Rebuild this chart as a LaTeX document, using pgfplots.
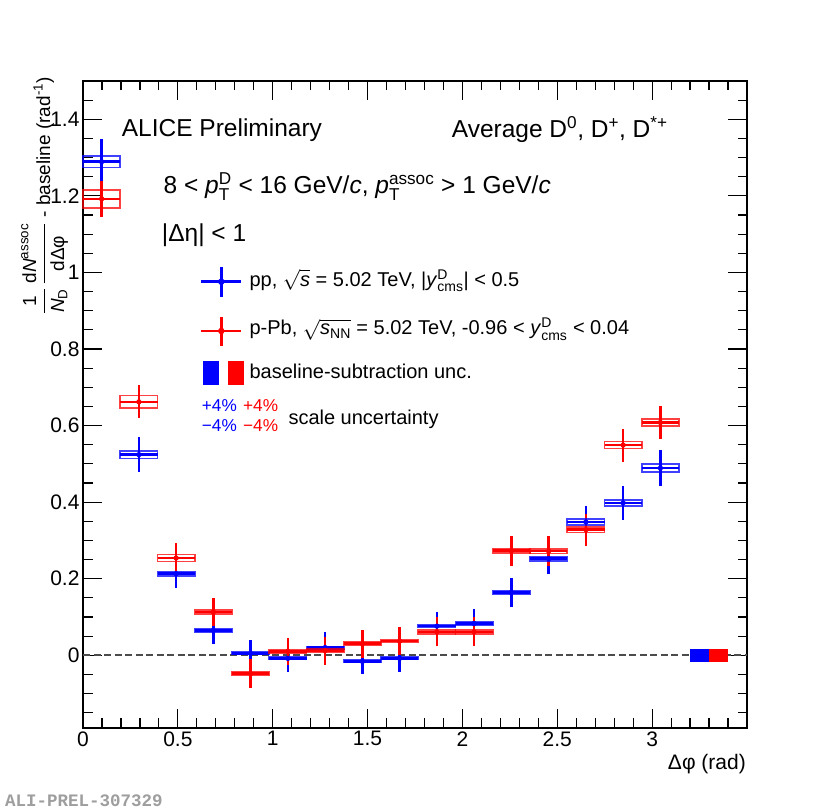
\documentclass[border=0pt]{standalone}
\usepackage{amsmath}
\usepackage{fontspec}
\setmainfont{Liberation Sans}
\setmonofont{Liberation Mono}
\usepackage{pgfplots}
\usepackage{pgfplotstable}
\pgfplotsset{compat=1.18}

\definecolor{rootblue}{rgb}{0,0,1}
\definecolor{rootred}{rgb}{1,0,0}
\definecolor{prelgray}{rgb}{0.62,0.62,0.62}
\definecolor{dashgray}{rgb}{0.3,0.3,0.3}

% systematic-uncertainty box: half width = half bin (0.0982 rad), half height from data
\pgfdeclareplotmark{sysbox}{%
  \pgfpathrectanglecorners{\pgfpoint{-18.63bp}{-\sysh bp}}{\pgfpoint{18.63bp}{\sysh bp}}%
  \pgfusepathqstroke}

\pgfplotstableread{
x y stat sys
0.0982 1.289 0.060 0.015
0.2945 0.524 0.045 0.010
0.4909 0.213 0.038 0.006
0.6872 0.065 0.036 0.004
0.8836 0.005 0.034 0.003
1.0799 -0.008 0.036 0.003
1.2763 0.020 0.040 0.003
1.4726 -0.016 0.032 0.003
1.6690 -0.008 0.035 0.003
1.8653 0.076 0.037 0.004
2.0617 0.083 0.037 0.004
2.2580 0.164 0.038 0.005
2.4544 0.252 0.040 0.006
2.6507 0.348 0.042 0.008
2.8471 0.398 0.045 0.008
3.0434 0.489 0.046 0.011
}\pptable

\pgfplotstableread{
x y stat sys
0.0982 1.192 0.048 0.023
0.2945 0.662 0.043 0.016
0.4909 0.254 0.039 0.009
0.6872 0.113 0.037 0.006
0.8836 -0.048 0.037 0.004
1.0799 0.010 0.036 0.004
1.2763 0.012 0.037 0.004
1.4726 0.030 0.036 0.004
1.6690 0.037 0.037 0.004
1.8653 0.061 0.038 0.005
2.0617 0.061 0.038 0.005
2.2580 0.273 0.039 0.006
2.4544 0.272 0.040 0.006
2.6507 0.328 0.042 0.007
2.8471 0.549 0.043 0.009
3.0434 0.608 0.043 0.009
}\ppbtable

\newcommand{\legfont}{\fontsize{20bp}{24bp}\selectfont}

\begin{document}
\begin{tikzpicture}
\useasboundingbox (0,0) rectangle (830bp,810bp);
\begin{axis}[
  at={(83bp,82bp)}, anchor=south west,
  scale only axis, width=664bp, height=647bp,
  xmin=0, xmax=3.5, ymin=-0.19, ymax=1.5,
  xtick={0,0.5,1,1.5,2,2.5,3},
  ytick={0,0.2,0.4,0.6,0.8,1,1.2,1.4},
  minor xtick={0,0.1,...,3.5},
  minor ytick={-0.15,-0.1,...,1.5},
  tick align=inside,
  major tick length=19bp, minor tick length=9.5bp,
  every tick/.style={black, line width=1.2bp},
  axis line style={line width=1.5bp},
  tick label style={font=\fontsize{21bp}{25bp}\selectfont},
  /pgf/number format/assume math mode=true,
  legend style={at={(0.1762,0.7192)}, anchor=north west, draw=none, fill=none,
    inner sep=0pt, outer sep=0pt, row sep=0pt, column sep=0pt,
    nodes={inner sep=0pt, outer sep=0pt}},
  legend cell align=left,
]
% zero line
\addplot[forget plot, dashgray, line width=1.8bp, dash pattern=on 7bp off 3.5bp] coordinates {(0,0) (3.5,0)};

% pp: systematic boxes
\addplot[forget plot, scatter, only marks, mark=sysbox,
  visualization depends on={\thisrow{sys}*382.84 \as \sysh},
  scatter/@pre marker code/.code={\pgfscope\pgfsetlinewidth{1.6bp}\pgfsetstrokecolor{rootblue}\pgfsetstrokeopacity{0.75}},
  scatter/@post marker code/.code={\endpgfscope},
] table[x=x, y=y] {\pptable};
% pp: statistical
\addplot[forget plot, rootblue, only marks, mark=*, mark size=2.3bp, mark options={line width=0.6bp, solid},
  error bars/.cd, x dir=both, x fixed=0.0982, y dir=both, y explicit, error mark=none,
  error bar style={line width=2.6bp}
] table[x=x, y=y, y error=stat] {\pptable};

% p-Pb: systematic boxes
\addplot[forget plot, scatter, only marks, mark=sysbox,
  visualization depends on={\thisrow{sys}*382.84 \as \sysh},
  scatter/@pre marker code/.code={\pgfscope\pgfsetlinewidth{1.6bp}\pgfsetstrokecolor{rootred}\pgfsetstrokeopacity{0.75}},
  scatter/@post marker code/.code={\endpgfscope},
] table[x=x, y=y] {\ppbtable};
% p-Pb: statistical
\addplot[forget plot, rootred, only marks, mark=*, mark size=2.3bp, mark options={line width=0.6bp, solid},
  error bars/.cd, x dir=both, x fixed=0.0982, y dir=both, y explicit, error mark=none,
  error bar style={line width=2.6bp}
] table[x=x, y=y, y error=stat] {\ppbtable};

% baseline-subtraction uncertainties
\addplot[forget plot, draw=none, fill=rootblue] coordinates {(3.2,-0.018) (3.3,-0.018) (3.3,0.017) (3.2,0.017)} -- cycle;
\addplot[forget plot, draw=none, fill=rootred] coordinates {(3.3,-0.018) (3.4,-0.018) (3.4,0.017) (3.3,0.017)} -- cycle;

% legend (key and text drawn together; y=0 is the text baseline of each row)
\addlegendimage{legend image code/.code={
  \path[draw=none, fill=none] (0bp,-24.3bp) rectangle (42.3bp,24bp);
  \draw[rootblue, line width=2.6bp] (0bp,5bp) -- (40bp,5bp) (20bp,-10bp) -- (20bp,20bp);
  \fill[rootblue] (20bp,5bp) circle (3bp);
  \node[anchor=base west, inner sep=0pt, font=\legfont, text=black] at (48.3bp,0bp)
    {pp, $\sqrt{\textit{s}}$ = 5.02 TeV, |\textit{y}$^{\text{D}}_{\text{cms}}$| < 0.5};}}
\addlegendentry{}
\addlegendimage{legend image code/.code={
  \path[draw=none, fill=none] (0bp,-20bp) rectangle (42.3bp,24bp);
  \draw[rootred, line width=2.6bp] (0bp,4bp) -- (40bp,4bp) (20bp,-11bp) -- (20bp,18.3bp);
  \fill[rootred] (20bp,4bp) circle (3bp);
  \node[anchor=base west, inner sep=0pt, font=\legfont, text=black] at (48.3bp,0bp)
    {p-Pb, $\sqrt{\textit{s}_{\text{NN}}}$ = 5.02 TeV, -0.96 < \textit{y}$^{\text{D}}_{\text{cms}}$ < 0.04};}}
\addlegendentry{}
\addlegendimage{legend image code/.code={
  \path[draw=none, fill=none] (0bp,-8bp) rectangle (42.3bp,24bp);
  \fill[rootblue] (1.7bp,-5bp) rectangle (17.3bp,17.3bp);
  \fill[rootred] (26.7bp,-5bp) rectangle (42.3bp,17.3bp);
  \node[anchor=base west, inner sep=0pt, font=\legfont, text=black] at (48.3bp,0bp)
    {baseline-subtraction unc.};}}
\addlegendentry{}
\end{axis}

% texts
\node[anchor=base west, inner sep=0pt, font=\fontsize{24.5bp}{29bp}\selectfont] at (121.7bp,673bp) {ALICE Preliminary};
\node[anchor=base west, inner sep=0pt, font=\fontsize{24.5bp}{29bp}\selectfont] at (451.7bp,672.3bp) {Average D$^{\text{0}}$, D$^{\text{+}}$, D$^{\text{*+}}$};
\node[anchor=base west, inner sep=0pt, font=\fontsize{24.5bp}{29bp}\selectfont] at (163.5bp,616bp) {8 < \textit{p}$^{\text{D}}_{\text{T}}$ < 16 GeV/\textit{c}, \textit{p}$^{\text{assoc}}_{\text{T}}$ > 1 GeV/\textit{c}};
\node[anchor=base west, inner sep=0pt, font=\fontsize{24.5bp}{29bp}\selectfont] at (161.7bp,568.3bp) {|Δη| < 1};

\node[anchor=base west, inner sep=0pt, font=\fontsize{17.2bp}{20bp}\selectfont, text=rootblue] at (201.7bp,398.3bp) {+4\%};
\node[anchor=base west, inner sep=0pt, font=\fontsize{17.2bp}{20bp}\selectfont, text=rootred] at (243bp,398.3bp) {+4\%};
\node[anchor=base west, inner sep=0pt, font=\fontsize{17.2bp}{20bp}\selectfont, text=rootblue] at (201.7bp,378.3bp) {−4\%};
\node[anchor=base west, inner sep=0pt, font=\fontsize{17.2bp}{20bp}\selectfont, text=rootred] at (243bp,378.3bp) {−4\%};
\node[anchor=base west, inner sep=0pt, font=\legfont] at (288.3bp,385bp) {scale uncertainty};

% axis titles
\node[rotate=90, anchor=base east, inner sep=0pt, font=\fontsize{19bp}{23bp}\selectfont] at (50bp,733bp)
  {$\dfrac{\text{1}}{\textit{N}_{\text{D}}}\,\dfrac{\text{d}\textit{N}^{\text{assoc}}}{\text{dΔφ}}$ - baseline (rad$^{\text{-1}}$)};
\node[anchor=base east, inner sep=0pt, font=\fontsize{21bp}{25bp}\selectfont] at (746bp,40bp) {Δφ (rad)};

\node[anchor=base west, inner sep=0pt, font=\ttfamily\bfseries\fontsize{17.5bp}{20bp}\selectfont, text=prelgray] at (5bp,4bp) {ALI-PREL-307329};
\end{tikzpicture}
\end{document}
